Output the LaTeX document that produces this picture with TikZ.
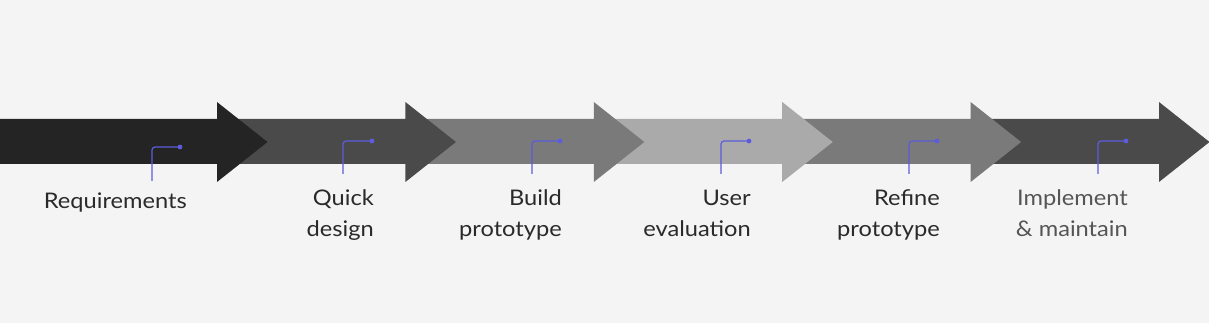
\documentclass[tikz,border=0pt]{standalone}
\usepackage{fontspec}
\setmainfont{Lato}[FakeStretch=1.1]
\begin{document}
\begin{tikzpicture}[x=1pt,y=-1pt,
  lbl/.style={inner sep=0pt,align=right,font=\fontsize{21.5}{31}\selectfont,text=txt},
  marker/.style={draw=mk,line width=1.2pt,rounded corners=3pt},
  mdot/.style={fill=mk,draw=none}]
\definecolor{bg}{HTML}{F4F4F4}
\definecolor{c1}{HTML}{242424}
\definecolor{c2}{HTML}{4A4A4A}
\definecolor{c3}{HTML}{7A7A7A}
\definecolor{c4}{HTML}{AAAAAA}
\definecolor{mk}{HTML}{5C5CDC}
\definecolor{txt}{HTML}{2A2A2A}
\definecolor{txtl}{HTML}{555555}
\fill[bg] (0,0) rectangle (1209,323);
\useasboundingbox (0,0) rectangle (1209,323);
% arrows drawn right to left so earlier heads overlap later bodies
\def\arrowshape#1#2#3{% start, base, colour
  \fill[#3] (#1,119) -- (#2,119) -- (#2,102) -- ({#2+50.5},142) -- (#2,182) -- (#2,164) -- (#1,164) -- cycle;}
\arrowshape{970.6}{1159}{c2}
\arrowshape{782.2}{970.6}{c3}
\arrowshape{593.8}{782.2}{c4}
\arrowshape{405.4}{593.8}{c3}
\arrowshape{217}{405.4}{c2}
\arrowshape{0}{217}{c1}
% markers
\coordinate (m1s) at (152,181); \coordinate (m1d) at (180,147);
\coordinate (m2s) at (343,174); \coordinate (m2d) at (372,141);
\coordinate (m3s) at (532,174); \coordinate (m3d) at (560,141);
\coordinate (m4s) at (721,174); \coordinate (m4d) at (749,141);
\coordinate (m5s) at (909,174); \coordinate (m5d) at (937,141);
\coordinate (m6s) at (1098,174); \coordinate (m6d) at (1126,141);
\foreach \i in {1,...,6}{
  \draw[marker] (m\i s) |- (m\i d);
  \fill[mdot] (m\i d) circle (2.4pt);
}
% labels (base anchor = baseline of last line)
\node[lbl,anchor=base east] (t1) at (187,208) {Requirements};
\node[lbl,anchor=base east] (t2) at (374,236) {Quick\\design};
\node[lbl,anchor=base east] (t3) at (562,236) {Build\\prototype};
\node[lbl,anchor=base east] (t4) at (751,236) {User\\evaluation};
\node[lbl,anchor=base east] (t5) at (940,236) {Refine\\prototype};
\node[lbl,anchor=base east,text=txtl] (t6) at (1128,236) {Implement\\\& maintain};
\end{tikzpicture}
\end{document}
